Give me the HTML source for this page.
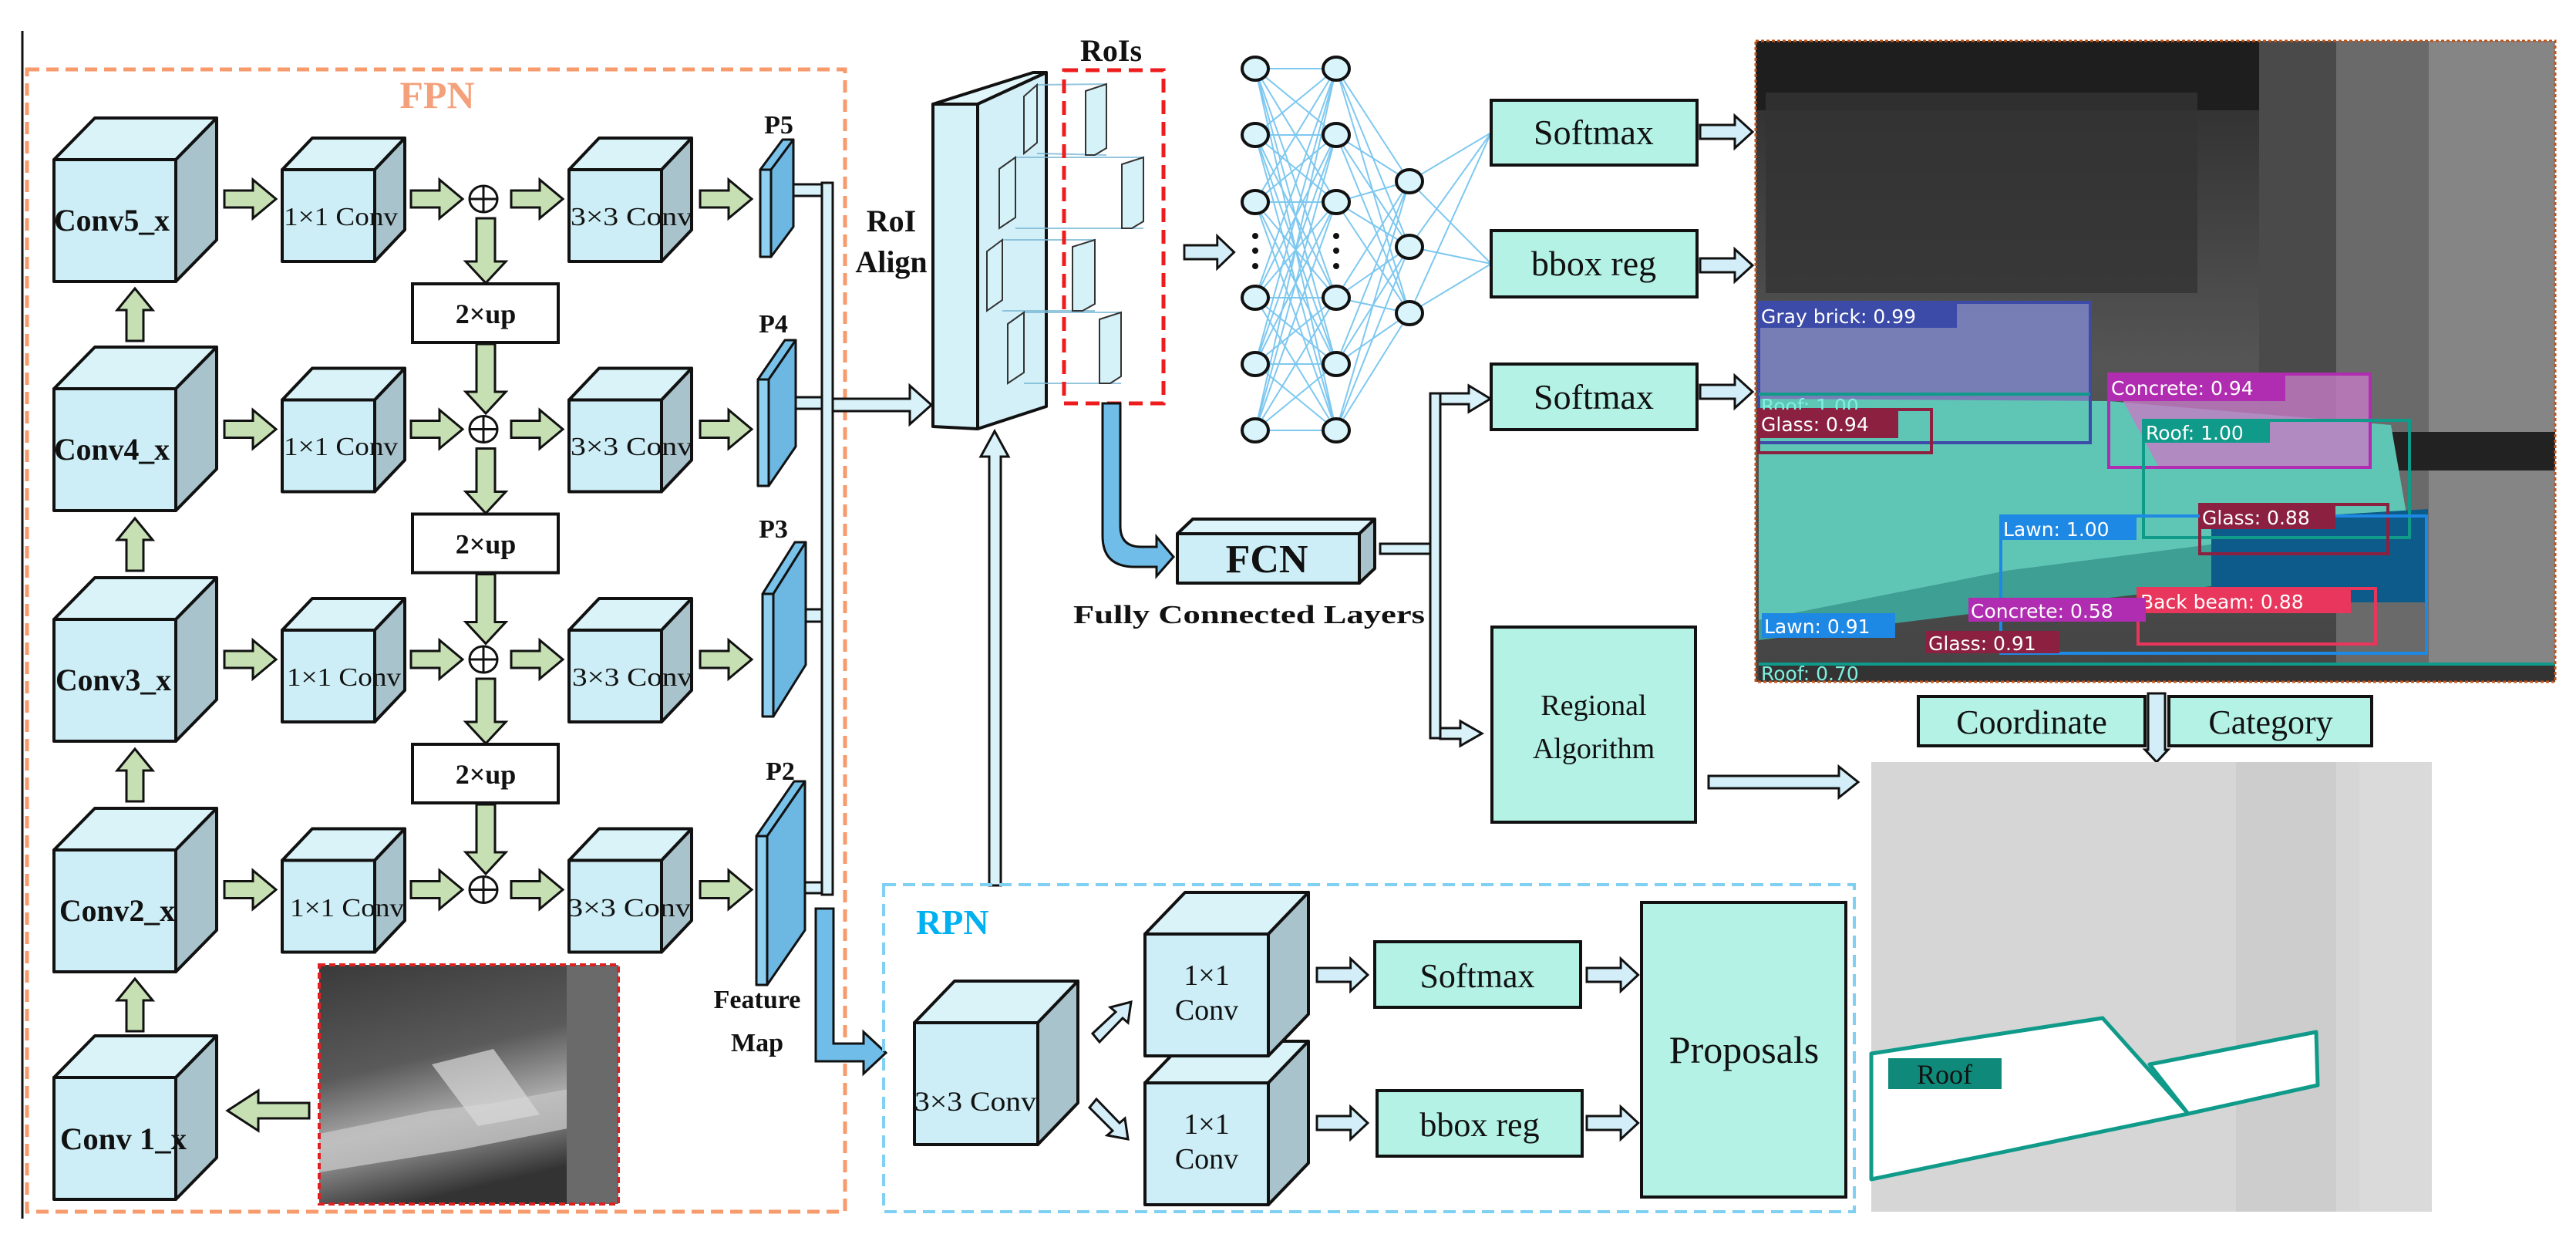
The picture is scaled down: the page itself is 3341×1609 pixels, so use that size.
<!DOCTYPE html>
<html><head><meta charset="utf-8"><style>html,body{margin:0;padding:0;background:#fff}svg{display:block}</style></head><body>
<svg xmlns="http://www.w3.org/2000/svg" width="3341" height="1609" viewBox="0 0 3341 1609" font-family="'Liberation Serif',serif">
<defs>
<g id="big" stroke="#111" stroke-width="4" stroke-linejoin="round">
<polygon points="0,0 53,-54 211,-54 158,0" fill="#d9f3f9"/>
<polygon points="158,0 211,-54 211,104 158,158" fill="#a8c3cb"/>
<rect x="0" y="0" width="158" height="158" fill="#cdeef6"/>
</g>
<g id="small" stroke="#111" stroke-width="4" stroke-linejoin="round">
<polygon points="0,0 39,-41 159,-41 120,0" fill="#d9f3f9"/>
<polygon points="120,0 159,-41 159,78 120,119" fill="#a8c3cb"/>
<rect x="0" y="0" width="120" height="119" fill="#cdeef6"/>
</g>
<g id="rcube" stroke="#111" stroke-width="4" stroke-linejoin="round">
<polygon points="0,0 52,-54 212,-54 160,0" fill="#d9f3f9"/>
<polygon points="160,0 212,-54 212,104 160,158" fill="#a8c3cb"/>
<rect x="0" y="0" width="160" height="158" fill="#cdeef6"/>
</g>
<path id="gh" d="M0,-11 L37,-11 L37,-25 L67,0 L37,25 L37,11 L0,11 Z" fill="#c6e0b4" stroke="#111" stroke-width="3"/>
<path id="gd" d="M-12,0 L12,0 L12,56 L26,56 L0,84 L-26,56 L-12,56 Z" fill="#c6e0b4" stroke="#111" stroke-width="3"/>
<path id="gd2" d="M-12,0 L12,0 L12,62 L26,62 L0,90 L-26,62 L-12,62 Z" fill="#c6e0b4" stroke="#111" stroke-width="3"/>
<path id="gu" d="M-11,0 L-11,-40 L-23,-40 L0,-68 L23,-40 L11,-40 L11,0 Z" fill="#c6e0b4" stroke="#111" stroke-width="3"/>
<path id="lh" d="M0,-9 L45,-9 L45,-21 L68,0 L45,21 L45,9 L0,9 Z" fill="#d3eef8" stroke="#111" stroke-width="3"/>
<g id="plus"><ellipse cx="0" cy="0" rx="18" ry="17" fill="#fff" stroke="#111" stroke-width="3"/><line x1="-18" y1="0" x2="18" y2="0" stroke="#111" stroke-width="3"/><line x1="0" y1="-17" x2="0" y2="17" stroke="#111" stroke-width="3"/></g>
<linearGradient id="inp" x1="0" y1="0" x2="0.3" y2="1"><stop offset="0" stop-color="#3a3a3a"/><stop offset="0.45" stop-color="#5a5a5a"/><stop offset="0.7" stop-color="#a9a9a9"/><stop offset="1" stop-color="#333"/></linearGradient>
<linearGradient id="det" x1="0" y1="0" x2="0" y2="1"><stop offset="0" stop-color="#2a2a2a"/><stop offset="0.5" stop-color="#555"/><stop offset="1" stop-color="#444"/></linearGradient>
</defs>

<!-- left black line -->
<line x1="29" y1="40" x2="29" y2="1580" stroke="#111" stroke-width="3"/>

<!-- FPN box -->
<rect x="35" y="90" width="1061" height="1481" fill="none" stroke="#f79a6c" stroke-width="5" stroke-dasharray="16 9"/>
<text x="567" y="140" font-size="50" font-weight="bold" fill="#f4a07a" text-anchor="middle">FPN</text>

<!-- big cubes -->
<use href="#big" x="70" y="207"/>
<use href="#big" x="70" y="504"/>
<use href="#big" x="70" y="803"/>
<use href="#big" x="70" y="1102"/>
<use href="#big" x="70" y="1397"/>
<g font-size="40" font-weight="bold" fill="#111">
<text x="70" y="299" textLength="150" lengthAdjust="spacingAndGlyphs">Conv5_x</text>
<text x="70" y="596" textLength="150" lengthAdjust="spacingAndGlyphs">Conv4_x</text>
<text x="72" y="895" textLength="150" lengthAdjust="spacingAndGlyphs">Conv3_x</text>
<text x="77" y="1194" textLength="150" lengthAdjust="spacingAndGlyphs">Conv2_x</text>
<text x="78" y="1490" textLength="164" lengthAdjust="spacingAndGlyphs">Conv 1_x</text>
</g>
<use href="#gu" x="175" y="442"/>
<use href="#gu" x="175" y="740"/>
<use href="#gu" x="175" y="1039"/>
<use href="#gu" x="175" y="1337"/>

<!-- small cubes -->
<use href="#small" x="366" y="220"/><use href="#small" x="366" y="518.5"/><use href="#small" x="366" y="817"/><use href="#small" x="366" y="1115.5"/>
<use href="#small" x="738" y="220"/><use href="#small" x="738" y="518.5"/><use href="#small" x="738" y="817"/><use href="#small" x="738" y="1115.5"/>
<g font-size="34" fill="#111">
<text x="368" y="292" textLength="148" lengthAdjust="spacingAndGlyphs">1×1 Conv</text>
<text x="368" y="590" textLength="148" lengthAdjust="spacingAndGlyphs">1×1 Conv</text>
<text x="372" y="889" textLength="148" lengthAdjust="spacingAndGlyphs">1×1 Conv</text>
<text x="376" y="1188" textLength="148" lengthAdjust="spacingAndGlyphs">1×1 Conv</text>
<text x="740" y="292" textLength="158" lengthAdjust="spacingAndGlyphs">3×3 Conv</text>
<text x="740" y="590" textLength="158" lengthAdjust="spacingAndGlyphs">3×3 Conv</text>
<text x="742" y="889" textLength="156" lengthAdjust="spacingAndGlyphs">3×3 Conv</text>
<text x="736" y="1188" textLength="160" lengthAdjust="spacingAndGlyphs">3×3 Conv</text>
</g>

<!-- horizontal green arrows -->
<g>
<use href="#gh" x="291" y="258"/><use href="#gh" x="533" y="258"/><use href="#gh" x="663" y="258"/><use href="#gh" x="908" y="258"/>
<use href="#gh" x="291" y="556.5"/><use href="#gh" x="533" y="556.5"/><use href="#gh" x="663" y="556.5"/><use href="#gh" x="908" y="556.5"/>
<use href="#gh" x="291" y="855"/><use href="#gh" x="533" y="855"/><use href="#gh" x="663" y="855"/><use href="#gh" x="908" y="855"/>
<use href="#gh" x="291" y="1153.5"/><use href="#gh" x="533" y="1153.5"/><use href="#gh" x="663" y="1153.5"/><use href="#gh" x="908" y="1153.5"/>
</g>
<use href="#plus" x="627" y="258"/><use href="#plus" x="627" y="556.5"/><use href="#plus" x="627" y="855"/><use href="#plus" x="627" y="1153.5"/>
<use href="#gd" x="630" y="283"/><use href="#gd" x="630" y="581.5"/><use href="#gd" x="630" y="880"/>
<use href="#gd2" x="630" y="446"/><use href="#gd2" x="630" y="744.5"/><use href="#gd2" x="630" y="1043"/>
<g stroke="#111" stroke-width="4" fill="#fff">
<rect x="535" y="368" width="189" height="76"/><rect x="535" y="666.5" width="189" height="76"/><rect x="535" y="965" width="189" height="76"/>
</g>
<g font-size="36" font-weight="bold" text-anchor="middle" fill="#111">
<text x="630" y="419">2×up</text><text x="630" y="717.5">2×up</text><text x="630" y="1016">2×up</text>
</g>

<!-- input photo -->
<rect x="414" y="1251" width="388" height="310" fill="url(#inp)"/>
<polygon points="414,1470 560,1440 640,1430 802,1400 802,1450 600,1490 414,1520" fill="#c4c4c4" opacity="0.8"/>
<polygon points="560,1380 640,1360 700,1445 620,1460" fill="#d8d8d8" opacity="0.7"/>
<rect x="735" y="1251" width="67" height="310" fill="#6a6a6a"/>
<rect x="414" y="1251" width="388" height="310" fill="none" stroke="#e02020" stroke-width="4" stroke-dasharray="8 5"/>
<path d="M401,1430 L335,1430 L335,1414 L295,1440 L335,1466 L335,1450 L401,1450 Z" fill="#c6e0b4" stroke="#111" stroke-width="3"/>

<!-- P slabs -->
<g stroke="#111" stroke-width="3" stroke-linejoin="round" fill="#79c2ea">
<polygon points="986,220 1015,181 1029,181 1000,220"/><polygon points="1000,220 1029,181 1029,294 1000,333" fill="#6db8e3"/><rect x="986" y="220" width="14" height="113" fill="#8fcff0"/>
<polygon points="983,492 1018,441 1032,441 997,492"/><polygon points="997,492 1032,441 1032,579 997,630" fill="#6db8e3"/><rect x="983" y="492" width="14" height="138" fill="#8fcff0"/>
<polygon points="989,770 1031,703 1045,703 1003,770"/><polygon points="1003,770 1045,703 1045,862 1003,929" fill="#6db8e3"/><rect x="989" y="770" width="14" height="159" fill="#8fcff0"/>
<polygon points="981,1084 1030,1013 1044,1013 995,1084"/><polygon points="995,1084 1044,1013 1044,1206 995,1277" fill="#6db8e3"/><rect x="981" y="1084" width="14" height="193" fill="#8fcff0"/>
</g>
<g font-size="34" font-weight="bold" text-anchor="middle" fill="#111">
<text x="1010" y="173">P5</text><text x="1003" y="431">P4</text><text x="1003" y="697">P3</text><text x="1012" y="1011">P2</text>
<text x="982" y="1307">Feature</text><text x="982" y="1363">Map</text>
</g>
<!-- bus -->
<g stroke="#111" stroke-width="3" fill="#d9f2fa">
<rect x="1029" y="239" width="37" height="15"/>
<rect x="1032" y="515" width="34" height="15"/>
<rect x="1045" y="790" width="21" height="16"/>
<rect x="1044" y="1144" width="22" height="14"/>
<rect x="1066" y="237" width="14" height="923"/>
<path d="M1080,517 L1180,517 L1180,500 L1208,525 L1180,550 L1180,533 L1080,533 Z"/>
<path d="M1283,1148 L1283,592 L1272,592 L1290,559 L1308,592 L1298,592 L1298,1148 Z"/>
</g>
<path d="M1058,1178 L1081,1178 L1081,1353 L1120,1353 L1120,1338 L1149,1365 L1120,1392 L1120,1376 L1058,1376 Z" fill="#6fbde8" stroke="#111" stroke-width="3"/>

<!-- RoI Align block -->
<g stroke="#111" stroke-width="4" stroke-linejoin="round">
<polygon points="1210,135 1340,94 1357,94 1268,135" fill="#e1f6fb"/>
<polygon points="1268,135 1357,94 1357,527 1268,556" fill="#d3f0f8"/>
<polygon points="1210,135 1268,135 1268,556 1210,553" fill="#d6f2f9"/>
</g>
<g stroke="#7ab9d6" stroke-width="2" fill="none" opacity="0.8">
<line x1="1345" y1="110" x2="1435" y2="109"/><line x1="1345" y1="199" x2="1435" y2="201"/>
<line x1="1317" y1="204" x2="1483" y2="204"/><line x1="1317" y1="296" x2="1483" y2="296"/>
<line x1="1300" y1="311" x2="1420" y2="311"/><line x1="1300" y1="403" x2="1420" y2="403"/>
<line x1="1328" y1="405" x2="1454" y2="405"/><line x1="1328" y1="497" x2="1454" y2="497"/>
</g>
<g stroke="#333" stroke-width="2" fill="#d6f2f9">
<polygon points="1328,125 1345,110 1345,185 1328,199"/>
<polygon points="1296,219 1317,204 1317,282 1296,296"/>
<polygon points="1280,326 1300,311 1300,389 1280,403"/>
<polygon points="1307,420 1328,405 1328,483 1307,497"/>
<polygon points="1408,118 1435,109 1435,192 1420,201 1408,201"/>
<polygon points="1455,213 1483,204 1483,287 1468,296 1455,296"/>
<polygon points="1391,320 1420,311 1420,394 1404,403 1391,403"/>
<polygon points="1426,414 1454,405 1454,488 1440,497 1426,497"/>
</g>
<rect x="1380" y="91" width="129" height="432" fill="none" stroke="#ee1c1c" stroke-width="5" stroke-dasharray="18 10"/>
<g font-size="40" font-weight="bold" text-anchor="middle" fill="#111">
<text x="1441" y="79">RoIs</text>
<text x="1156" y="300">RoI</text><text x="1156" y="353">Align</text>
</g>

<!-- RoIs -> NN arrow -->
<use href="#lh" x="1536" y="327" transform="translate(1536 327) scale(0.95 1) translate(-1536 -327)"/>

<!-- bent dark arrow to FCN -->
<path d="M1430,523 L1453,523 L1453,682 Q1453,709 1480,709 L1500,709 L1500,696 L1522,722 L1500,747 L1500,735 L1472,735 Q1430,735 1430,695 Z" fill="#6fbde8" stroke="#111" stroke-width="3"/>

<!-- FCN -->
<g stroke="#111" stroke-width="4" stroke-linejoin="round">
<polygon points="1527,692 1547,673 1783,673 1763,692" fill="#dcf4fa"/>
<polygon points="1763,692 1783,673 1783,737 1763,756" fill="#a8c3cb"/>
<rect x="1527" y="692" width="236" height="64" fill="#cdeef6"/>
</g>
<text x="1643" y="742" font-size="52" font-weight="bold" text-anchor="middle" fill="#111">FCN</text>
<text x="1392" y="808" font-size="34" font-weight="bold" fill="#111" textLength="456" lengthAdjust="spacingAndGlyphs">Fully Connected Layers</text>
<g stroke="#111" stroke-width="3" fill="#d9f2fa">
<rect x="1790" y="705" width="65" height="13"/>
<rect x="1855" y="510" width="13" height="447"/>
<path d="M1868,510 L1905,510 L1905,500 L1933,517 L1905,534 L1905,524 L1868,524 Z"/>
<path d="M1868,944 L1894,944 L1894,935 L1922,951 L1894,967 L1894,958 L1868,958 Z"/>
</g>

<!-- Neural net -->
<g stroke="#7ec8f0" stroke-width="2">
<path d="M1628,89L1733,89M1628,89L1733,175M1628,89L1733,262M1628,89L1733,386M1628,89L1733,472M1628,89L1733,558
M1628,175L1733,89M1628,175L1733,175M1628,175L1733,262M1628,175L1733,386M1628,175L1733,472M1628,175L1733,558
M1628,262L1733,89M1628,262L1733,175M1628,262L1733,262M1628,262L1733,386M1628,262L1733,472M1628,262L1733,558
M1628,386L1733,89M1628,386L1733,175M1628,386L1733,262M1628,386L1733,386M1628,386L1733,472M1628,386L1733,558
M1628,472L1733,89M1628,472L1733,175M1628,472L1733,262M1628,472L1733,386M1628,472L1733,472M1628,472L1733,558
M1628,558L1733,89M1628,558L1733,175M1628,558L1733,262M1628,558L1733,386M1628,558L1733,472M1628,558L1733,558
M1733,89L1828,235M1733,89L1828,320M1733,89L1828,406M1733,175L1828,235M1733,175L1828,320M1733,175L1828,406
M1733,262L1828,235M1733,262L1828,320M1733,262L1828,406M1733,386L1828,235M1733,386L1828,320M1733,386L1828,406
M1733,472L1828,235M1733,472L1828,320M1733,472L1828,406M1733,558L1828,235M1733,558L1828,320M1733,558L1828,406
M1828,235L1934,172M1828,235L1934,342M1828,320L1934,172M1828,320L1934,342M1828,406L1934,172M1828,406L1934,342"/>
</g>
<g fill="#d9f5fb" stroke="#111" stroke-width="4">
<ellipse cx="1628" cy="89" rx="17" ry="15"/><ellipse cx="1628" cy="175" rx="17" ry="15"/><ellipse cx="1628" cy="262" rx="17" ry="15"/><ellipse cx="1628" cy="386" rx="17" ry="15"/><ellipse cx="1628" cy="472" rx="17" ry="15"/><ellipse cx="1628" cy="558" rx="17" ry="15"/>
<ellipse cx="1733" cy="89" rx="17" ry="15"/><ellipse cx="1733" cy="175" rx="17" ry="15"/><ellipse cx="1733" cy="262" rx="17" ry="15"/><ellipse cx="1733" cy="386" rx="17" ry="15"/><ellipse cx="1733" cy="472" rx="17" ry="15"/><ellipse cx="1733" cy="558" rx="17" ry="15"/>
<ellipse cx="1828" cy="235" rx="17" ry="15"/><ellipse cx="1828" cy="320" rx="17" ry="15"/><ellipse cx="1828" cy="406" rx="17" ry="15"/>
</g>
<g fill="#111">
<circle cx="1628" cy="306" r="4"/><circle cx="1628" cy="325" r="4"/><circle cx="1628" cy="345" r="4"/>
<circle cx="1733" cy="306" r="4"/><circle cx="1733" cy="325" r="4"/><circle cx="1733" cy="345" r="4"/>
</g>

<!-- right boxes -->
<g fill="#b3f2e5" stroke="#111" stroke-width="4">
<rect x="1934" y="130" width="267" height="84"/>
<rect x="1934" y="299" width="267" height="86"/>
<rect x="1934" y="472" width="267" height="85"/>
<rect x="1935" y="813" width="264" height="253"/>
<rect x="2488" y="903" width="294" height="64"/>
<rect x="2813" y="903" width="263" height="64"/>
<rect x="2129" y="1170" width="265" height="382"/>
<rect x="1783" y="1221" width="267" height="85"/>
<rect x="1786" y="1414" width="266" height="85"/>
</g>
<g font-size="46" text-anchor="middle" fill="#111">
<text x="2067" y="187">Softmax</text>
<text x="2067" y="357">bbox reg</text>
<text x="2067" y="530">Softmax</text>
<text x="2067" y="927" font-size="38">Regional</text>
<text x="2067" y="983" font-size="38">Algorithm</text>
<text x="2635" y="951" font-size="44">Coordinate</text>
<text x="2945" y="951" font-size="44">Category</text>
<text x="2262" y="1378" font-size="50">Proposals</text>
<text x="1916" y="1280" font-size="44">Softmax</text>
<text x="1919" y="1473" font-size="44">bbox reg</text>
</g>
<use href="#lh" x="2205" y="171"/><use href="#lh" x="2205" y="344"/><use href="#lh" x="2205" y="508"/>
<path d="M2216,1006 L2385,1006 L2385,994 L2410,1014 L2385,1034 L2385,1022 L2216,1022 Z" fill="#d3eef8" stroke="#111" stroke-width="3"/>
<path d="M2786,899 L2808,899 L2808,972 L2812,972 L2797,988 L2782,972 L2786,972 Z" fill="#d3eef8" stroke="#111" stroke-width="3"/>

<!-- detection image -->
<rect x="2277" y="53" width="1037" height="831" fill="url(#det)"/>
<rect x="2277" y="53" width="1037" height="90" fill="#1e1e1e"/>
<rect x="2930" y="53" width="100" height="500" fill="#4a4a4a"/>
<rect x="3030" y="53" width="284" height="831" fill="#6a6a6a"/>
<rect x="3150" y="53" width="164" height="831" fill="#858585"/>
<rect x="3030" y="560" width="284" height="50" fill="#222"/>
<rect x="2290" y="120" width="560" height="260" fill="#333" opacity="0.8"/>
<polygon points="2281,392 2711,392 2711,574 2281,574" fill="#7e86c8" opacity="0.85"/>
<polygon points="2281,517 2735,520 3101,551 3125,689 2868,706 2603,740 2281,804" fill="#5fc6b6"/>
<polygon points="2281,804 2603,740 2868,706 3149,690 3149,781 2868,760 2603,790 2281,830" fill="#3e9f95"/>
<polygon points="2868,677 3149,660 3149,781 2868,781" fill="#0d5b8a"/>
<polygon points="2735,485 3074,485 3074,606 2800,606" fill="#c67bc6" opacity="0.8"/>
<rect x="2281" y="861" width="1033" height="23" fill="#333"/>
<g fill="none" stroke-width="4">
<rect x="2281" y="392" width="430" height="182" stroke="#3c4aa8"/>
<rect x="2735" y="485" width="339" height="121" stroke="#b02cb0"/>
<rect x="2780" y="545" width="345" height="152" stroke="#0f9a8a"/>
<rect x="2281" y="531" width="224" height="56" stroke="#8b2040"/>
<rect x="2853" y="654" width="244" height="64" stroke="#8b2040"/>
<rect x="2595" y="669" width="552" height="178" stroke="#1e88e5"/>
<rect x="2773" y="763" width="308" height="72" stroke="#e8365d"/>
<line x1="2281" y1="861" x2="3314" y2="861" stroke="#0f9a8a"/>
<line x1="2281" y1="511" x2="2711" y2="511" stroke="#0f9a8a"/>
</g>
<g font-family="'DejaVu Sans',sans-serif" font-size="25" fill="#fff">
<rect x="2281" y="392" width="257" height="33" fill="#3c4aa8"/><text x="2284" y="419">Gray brick: 0.99</text>
<text x="2284" y="535" fill="#7ff0e0">Roof: 1.00</text>
<rect x="2281" y="531" width="181" height="37" fill="#8b2040"/><text x="2284" y="559">Glass: 0.94</text>
<rect x="2735" y="485" width="229" height="35" fill="#b02cb0"/><text x="2738" y="512">Concrete: 0.94</text>
<rect x="2780" y="545" width="164" height="29" fill="#0f9a8a"/><text x="2783" y="570">Roof: 1.00</text>
<rect x="2853" y="654" width="176" height="32" fill="#8b2040"/><text x="2856" y="680">Glass: 0.88</text>
<rect x="2595" y="669" width="176" height="31" fill="#1e88e5"/><text x="2598" y="695">Lawn: 1.00</text>
<rect x="2773" y="763" width="276" height="32" fill="#e8365d"/><text x="2776" y="789">Back beam: 0.88</text>
<rect x="2553" y="775" width="230" height="31" fill="#b02cb0"/><text x="2556" y="801">Concrete: 0.58</text>
<rect x="2285" y="795" width="173" height="32" fill="#1e88e5"/><text x="2288" y="821">Lawn: 0.91</text>
<rect x="2498" y="818" width="173" height="29" fill="#8b2040"/><text x="2501" y="843">Glass: 0.91</text>
<text x="2284" y="882" fill="#7ff0e0">Roof: 0.70</text>
</g>
<rect x="2277" y="53" width="1037" height="831" fill="none" stroke="#c0561e" stroke-width="3" stroke-dasharray="4 3"/>

<!-- grey output image -->
<rect x="2427" y="988" width="727" height="583" fill="#d6d6d6"/>
<rect x="2900" y="988" width="130" height="583" fill="#cdcdcd"/>
<rect x="3060" y="988" width="94" height="583" fill="#dadada"/>
<polygon points="2427,1366 2727,1320 2838,1444 2427,1529" fill="#fff" stroke="#0f9a8a" stroke-width="5" stroke-linejoin="round"/>
<polygon points="2788,1380 3004,1338 3006,1407 2838,1444" fill="#fff" stroke="#0f9a8a" stroke-width="5" stroke-linejoin="round"/>
<rect x="2449" y="1372" width="147" height="40" fill="#0f8a7a"/>
<text x="2522" y="1405" font-size="36" text-anchor="middle" fill="#111">Roof</text>

<!-- RPN -->
<rect x="1146" y="1147" width="1259" height="424" fill="none" stroke="#7fd0f2" stroke-width="4" stroke-dasharray="16 9"/>
<text x="1188" y="1211" font-size="46" font-weight="bold" fill="#00b0f0">RPN</text>
<use href="#rcube" x="1186" y="1326"/>
<use href="#rcube" x="1485" y="1404"/>
<use href="#rcube" x="1485" y="1211"/>
<g font-size="38" fill="#111" text-anchor="middle">
<text x="1565" y="1277">1×1</text><text x="1565" y="1322">Conv</text>
<text x="1565" y="1470">1×1</text><text x="1565" y="1515">Conv</text>
<text x="1186" y="1440" text-anchor="start" font-size="36" textLength="158" lengthAdjust="spacingAndGlyphs">3×3 Conv</text>
</g>
<g fill="#d3eef8" stroke="#111" stroke-width="3">
<path d="M1417,1340 L1447,1312 L1440,1306 L1467,1299 L1463,1326 L1456,1320 L1426,1351 Z"/>
<path d="M1413,1436 L1443,1466 L1436,1472 L1463,1477 L1459,1450 L1452,1456 L1422,1425 Z"/>
</g>
<use href="#lh" x="1708" y="1264" transform="translate(1708 1264) scale(0.97 1) translate(-1708 -1264)"/>
<use href="#lh" x="1708" y="1456" transform="translate(1708 1456) scale(0.97 1) translate(-1708 -1456)"/>
<use href="#lh" x="2058" y="1264" transform="translate(2058 1264) scale(0.98 1) translate(-2058 -1264)"/>
<use href="#lh" x="2058" y="1456" transform="translate(2058 1456) scale(0.98 1) translate(-2058 -1456)"/>
</svg>
</body></html>
